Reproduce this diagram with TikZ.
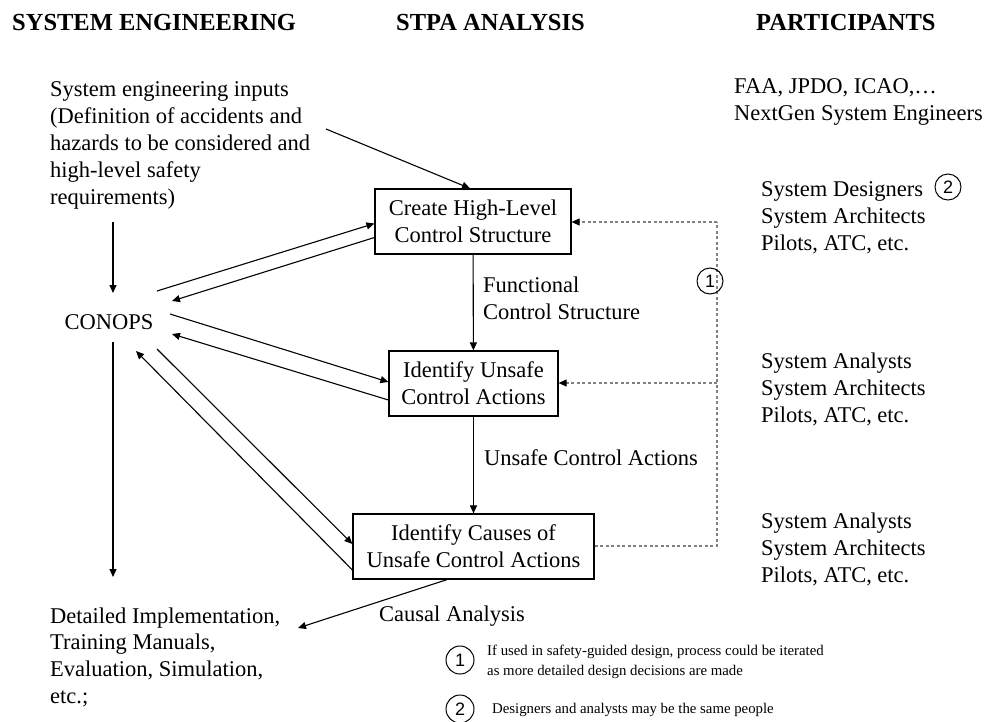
\documentclass[tikz,border=0pt]{standalone}
\usepackage{fontspec}
\setmainfont{Liberation Serif}
\newfontfamily\circfont{Liberation Sans}
\usetikzlibrary{arrows.meta,positioning}

\begin{document}
\begin{tikzpicture}[x=1pt,y=-1pt,
  font=\fontsize{22.5}{26.8}\selectfont,
  stepbox/.style={draw,line width=1.2pt,align=center,inner sep=0pt,minimum height=65pt},
  label/.style={anchor=base west,align=left,inner sep=0pt},
  head/.style={anchor=base west,inner sep=0pt,font=\fontsize{24.5}{28}\selectfont\bfseries},
  note/.style={anchor=base west,align=left,inner sep=0pt,font=\fontsize{14.8}{20}\selectfont},
  flow/.style={line width=1.1pt,-{Triangle[length=8pt,width=7pt]}},
  loopline/.style={draw=gray,line width=1.1pt,dash pattern=on 3pt off 2.5pt},
  num/.style={circle,draw,line width=1pt,minimum size=26pt,inner sep=0pt,font=\circfont\fontsize{18}{18}\selectfont},
]
\useasboundingbox (0,0) rectangle (987,721);

% column headings
\node[head] (h-se) at (12,30) {SYSTEM ENGINEERING};
\node[head] (h-stpa) at (396,30) {STPA ANALYSIS};
\node[head] (h-part) at (756,30) {PARTICIPANTS};

% system engineering column (base = last line)
\node[label] (inputs) at (50,204) {System engineering inputs\\(Definition of accidents and\\hazards to be considered and\\high-level safety\\requirements)};
\node (conops) at (109,322) {CONOPS};
\node[label] (impl) at (50,703.5) {Detailed Implementation,\\Training Manuals,\\Evaluation, Simulation,\\etc.;};

% STPA steps
\node[stepbox,minimum width=196pt] (create) at (473,221.5) {Create High-Level\\Control Structure};
\node[stepbox,minimum width=169pt] (unsafe) at (473.5,383.5) {Identify Unsafe\\Control Actions};
\node[stepbox,minimum width=241pt] (causes) at (473.5,546.5) {Identify Causes of\\Unsafe Control Actions};

\node[label] (l-func) at (483,319) {Functional\\Control Structure};
\node[label] (l-uca) at (484,465) {Unsafe Control Actions};
\node[label] (l-causal) at (379,621) {Causal Analysis};

% participants
\node[label] (p-faa) at (734,120) {FAA, JPDO, ICAO,…\\NextGen System Engineers};
\node[label] (p-design) at (761,250.5) {System Designers\\System Architects\\Pilots, ATC, etc.};
\node[num] (n-two) at (948,187) {2};
\node[label] (p-uca) at (761,422) {System Analysts\\System Architects\\Pilots, ATC, etc.};
\node[label] (p-causes) at (761,582) {System Analysts\\System Architects\\Pilots, ATC, etc.};

% iteration loop
\coordinate (loop-top) at (717,222);
\coordinate (loop-mid) at (717,383);
\coordinate (loop-bot) at (717,546);
\draw[loopline] (causes.east |- loop-bot) -- (loop-bot) -- (loop-top);
\draw[loopline,-{Triangle[length=8pt,width=7pt,black]}] (loop-top) -- (create.east |- loop-top);
\draw[loopline,-{Triangle[length=8pt,width=7pt,black]}] (loop-mid) -- (unsafe.east |- loop-mid);
\node[num] (n-one) at (710,281) {1};

% main flow
\coordinate (inputs-out) at (326,129);
\coordinate (impl-in) at (298,628);
\draw[flow] (inputs-out) -- ([shift={(-3,0)}]create.north);
\draw[flow] (create) -- (unsafe);
\draw[flow] (unsafe) -- (causes);
\draw[flow] ([shift={(-26.5,0)}]causes.south) -- (impl-in);
\draw[flow] ([shift={(4,-100)}]conops.center) -- ([shift={(4,-29)}]conops.center);
\draw[flow] ([shift={(4,20)}]conops.center) -- ([shift={(4,255)}]conops.center);

% CONOPS exchanges
\draw[flow] ([shift={(48,-31)}]conops.center) -- ([shift={(0,2)}]create.west);
\draw[flow] ([shift={(0,16)}]create.west) -- ([shift={(63,-21)}]conops.center);
\draw[flow] ([shift={(61,-8)}]conops.center) -- ([shift={(0,-1.5)}]unsafe.west);
\draw[flow] ([shift={(0,16.5)}]unsafe.west) -- ([shift={(63,12)}]conops.center);
\draw[flow] ([shift={(48,27)}]conops.center) -- ([shift={(0,-2.5)}]causes.west);
\draw[flow] ([shift={(0,23.5)}]causes.west) -- ([shift={(27,29)}]conops.center);

% notes
\node[num,minimum size=28pt] (fn-one) at (460,660) {1};
\node[note] (t-one) at (487,675) {If used in safety-guided design, process could be iterated\\as more detailed design decisions are made};
\node[num,minimum size=28pt] (fn-two) at (460,709) {2};
\node[note] (t-two) at (492,713) {Designers and analysts may be the same people};
\end{tikzpicture}
\end{document}
